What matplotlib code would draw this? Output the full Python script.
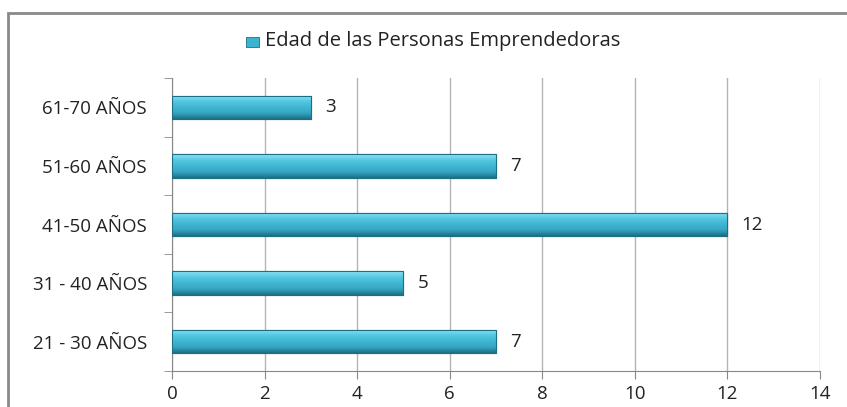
import matplotlib.pyplot as plt
import numpy as np
from matplotlib.patches import Rectangle
from matplotlib.colors import LinearSegmentedColormap

# Datos
categorias = ['21 - 30 AÑOS', '31 - 40 AÑOS', '41-50 AÑOS', '51-60 AÑOS', '61-70 AÑOS']
valores = [7, 5, 12, 7, 3]
serie = 'Edad de las Personas Emprendedoras'

plt.rcParams['font.family'] = ['Open Sans', 'DejaVu Sans']

fig = plt.figure(figsize=(8.47, 4.07), dpi=100)
ax = fig.add_axes([172 / 847, 1 - 371 / 407, (820 - 172) / 847, (371 - 78) / 407])

# Borde del grafico (recortado a la derecha y abajo)
fig.patches.append(Rectangle((8 / 847, -0.1), 1.2, 1 - 13 / 407 + 0.1,
                             transform=fig.transFigure, fill=False,
                             edgecolor='#8a8a8a', linewidth=2))

y = np.arange(len(categorias))
barras = ax.barh(y, valores, height=0.4, color='#3bb4d2', edgecolor='#1d6f85',
                 linewidth=0.8, zorder=3)

# Degradado en cada barra (claro arriba, oscuro abajo)
grad = np.linspace(0, 1, 64).reshape(-1, 1)
cmap = LinearSegmentedColormap.from_list('cian', ['#8ee3f4', '#55c8e2', '#3fb6d3', '#35a7c4', '#1f6f85'])
for b in barras:
    x0, y0, w, h = b.get_x(), b.get_y(), b.get_width(), b.get_height()
    im = ax.imshow(grad, extent=[x0, x0 + w, y0, y0 + h], aspect='auto',
                   cmap=cmap, zorder=3.5, origin='upper')
    im.set_clip_path(b)
    ax.add_patch(Rectangle((x0, y0), w, h, fill=False, edgecolor='#1d6f85',
                           linewidth=0.8, zorder=4))

# Etiquetas de datos
for yi, v in zip(y, valores):
    ax.text(v + 0.3, yi, str(v), va='center', ha='left', fontsize=13.5, color='#222222')

ax.set_xlim(0, 14)
ax.set_ylim(-0.5, len(categorias) - 0.5)
ax.set_xticks(range(0, 15, 2))
ax.set_yticks(y)
ax.set_yticklabels(categorias, fontsize=13.5, color='#222222')
ax.set_yticks(np.arange(-0.5, len(categorias), 1), minor=True)
ax.tick_params(axis='y', which='major', length=0, pad=18)
ax.tick_params(axis='y', which='minor', length=6, color='#888888', direction='out')
ax.tick_params(axis='x', length=6, color='#888888', labelsize=13.5, labelcolor='#222222', pad=4)

ax.grid(axis='x', color='#b4b4b4', linewidth=1, zorder=0)
for lado in ['top', 'right']:
    ax.spines[lado].set_visible(False)
ax.spines['left'].set_color('#888888')
ax.spines['bottom'].set_color('#888888')

# Leyenda
fig.patches.append(Rectangle((246 / 847, 1 - 47 / 407), 13 / 847, 10 / 407,
                             transform=fig.transFigure, facecolor='#3bb4d2',
                             edgecolor='#1d6f85', linewidth=0.6))
fig.text(265 / 847, 1 - 41 / 407, serie, fontsize=14.5, va='center', ha='left', color='#222222')

fig.savefig('out.png', dpi=100)
